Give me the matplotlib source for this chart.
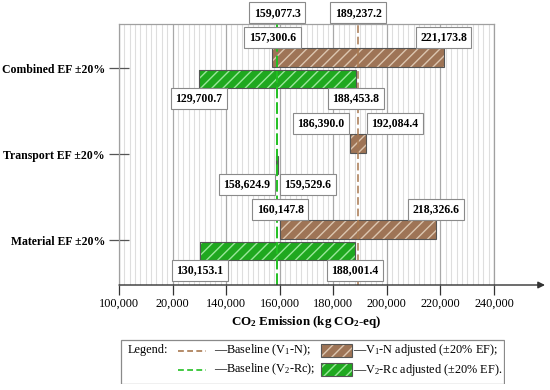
import matplotlib
matplotlib.use("Agg")
import matplotlib.pyplot as plt
from matplotlib.patches import Rectangle
from matplotlib.lines import Line2D
import matplotlib.transforms as mtransforms

# ---------------- data ----------------
categories = ["Material EF ±20%", "Transport EF ±20%", "Combined EF ±20%"]
v1_low = [160147.8, 186390.0, 157300.6]
v1_high = [218326.6, 192084.4, 221173.8]
v2_low = [130153.1, 158624.9, 129700.7]
v2_high = [188001.4, 159529.6, 188453.8]
baseline_v1 = 189237.2
baseline_v2 = 159077.3
xtick_values = [100000, 120000, 140000, 160000, 180000, 200000, 220000, 240000]
xtick_labels = ["100,000", "20,000", "140,000", "160,000", "180,000", "200,000", "220,000", "240,000"]

# ---------------- style ----------------
plt.rcParams['font.family'] = ['Liberation Serif', 'DejaVu Serif']
plt.rcParams['mathtext.fontset'] = 'custom'
plt.rcParams['mathtext.rm'] = 'Liberation Serif'
plt.rcParams['mathtext.bf'] = 'Liberation Serif:bold'
plt.rcParams['mathtext.it'] = 'Liberation Serif:italic'
plt.rcParams['hatch.linewidth'] = 1.0

BROWN = '#9e7456'
BROWN_H = '#dcc6b0'
GREEN = '#1fa81f'
GREEN_H = '#9ae89a'
BROWN_LINE = '#a8784f'
GREEN_LINE = '#22c022'
EDGE = '#555555'

fig = plt.figure(figsize=(5.5, 3.9), dpi=100)
ax = fig.add_axes([119/550, 1 - 285/390, 375/550, 261/390])

ax.set_xlim(100000, 240000)
ax.set_ylim(-0.523, 2.512)
ypos = list(range(len(categories)))

# grid
for xv in range(100000, 240001, 2000):
    if xv % 20000 == 0:
        ax.axvline(xv, color='#a8a8a8', lw=0.9, zorder=1)
    else:
        ax.axvline(xv, color='#dedede', lw=0.8, zorder=0.5)

off = 0.125
h = 0.215
for i, y in enumerate(ypos):
    ax.barh(y + off, v1_high[i] - v1_low[i], left=v1_low[i], height=h,
            color=BROWN, edgecolor=BROWN_H, hatch='///', lw=0, zorder=3)
    ax.barh(y + off, v1_high[i] - v1_low[i], left=v1_low[i], height=h,
            fill=False, edgecolor=EDGE, lw=0.8, zorder=3.1)
    ax.barh(y - off, v2_high[i] - v2_low[i], left=v2_low[i], height=h,
            color=GREEN, edgecolor=GREEN_H, hatch='///', lw=0, zorder=3)
    ax.barh(y - off, v2_high[i] - v2_low[i], left=v2_low[i], height=h,
            fill=False, edgecolor=EDGE, lw=0.8, zorder=3.1)

# baselines
ax.axvline(baseline_v1, color=BROWN_LINE, lw=1.1, ls=(0, (5, 2.5)), zorder=4)
ax.axvline(baseline_v2, color=GREEN_LINE, lw=1.4, ls=(0, (6, 2)), zorder=4)

LFS = 8.5
PAD = 0.38
box = dict(boxstyle=f'square,pad={PAD}', fc='white', ec='#8a8a8a', lw=0.8)
fmt = lambda v: f"{v:,.1f}"
lab_off = 0.355
shift = PAD * LFS + 0.8  # points, so box edges sit at the bar end


def put(x, y, ha):
    dx = {'right': -shift, 'left': shift, 'center': 0}[ha]
    ax.annotate(fmt(x), xy=(x, y), xytext=(dx, 0), textcoords='offset points',
                ha=ha, va='center', fontsize=LFS, fontweight='bold', bbox=box,
                zorder=6)


for i, y in enumerate(ypos):
    narrow = (v1_high[i] - v1_low[i]) < 20000
    ha_lo, ha_hi = ('right', 'left') if narrow else ('center', 'center')
    put(v1_low[i], y + lab_off, ha_lo)
    put(v1_high[i], y + lab_off, ha_hi)
    put(v2_low[i], y - lab_off, ha_lo)
    put(v2_high[i], y - lab_off, ha_hi)

trans = mtransforms.blended_transform_factory(ax.transData, ax.transAxes)
for bv in (baseline_v2, baseline_v1):
    ax.text(bv, 1.043, fmt(bv), transform=trans, ha='center', va='center',
            fontsize=LFS, fontweight='bold', bbox=box, clip_on=False, zorder=6)

# axes styling
for s in ('top', 'right', 'left'):
    ax.spines[s].set_color('#a0a0a0')
    ax.spines[s].set_linewidth(0.9)
ax.spines['bottom'].set_visible(False)
ax.annotate('', xy=(545/550, 1 - 285/390), xytext=(119/550, 1 - 285/390),
            xycoords='figure fraction', textcoords='figure fraction',
            arrowprops=dict(arrowstyle='-|>', color='#333333', lw=1.0,
                            mutation_scale=10, shrinkA=0, shrinkB=0),
            zorder=7)

ax.set_xticks(xtick_values)
ax.set_xticklabels(xtick_labels, fontsize=8.8)
ax.tick_params(axis='x', direction='out', length=7, width=0.9, color='#333333', pad=2)
ax.set_yticks(ypos)
ax.set_yticklabels(categories, fontsize=8.5, fontweight='bold')
ax.tick_params(axis='y', direction='inout', length=14, width=0.9, color='#555555', pad=3)
ax.set_xlabel(r"CO$_\mathbf{2}$ Emission (kg CO$_\mathbf{2}$-eq)", fontsize=9.4,
              fontweight='bold', labelpad=3)

# ---------------- legend (drawn manually) ----------------
lax = fig.add_axes([120/550, 1 - 384/390, 385/550, 45/390])
lax.set_xlim(0, 385)
lax.set_ylim(0, 45)
lax.axis('off')
lax.add_patch(Rectangle((0.5, 0.5), 384, 44, fill=False, ec='#8a8a8a', lw=0.9))
r1, r2 = 33.5, 14.5
lax.text(8, r1, "Legend:", fontsize=8.8, va='center', ha='left')
lax.add_line(Line2D([58, 86], [r1, r1], color=BROWN_LINE, lw=1.2, ls=(0, (3.5, 2))))
lax.add_line(Line2D([58, 86], [r2, r2], color=GREEN_LINE, lw=1.2, ls=(0, (3.5, 2))))
lax.text(94, r1, "—Baseline (V$_1$-N);", fontsize=8.8, va='center', ha='left')
lax.text(94, r2, "—Baseline (V$_2$-Rc);", fontsize=8.8, va='center', ha='left')
lax.add_patch(Rectangle((201, r1 - 6.5), 31, 13, fc=BROWN, ec=BROWN_H, hatch='///', lw=0))
lax.add_patch(Rectangle((201, r1 - 6.5), 31, 13, fill=False, ec=EDGE, lw=0.8))
lax.add_patch(Rectangle((201, r2 - 6.5), 31, 13, fc=GREEN, ec=GREEN_H, hatch='///', lw=0))
lax.add_patch(Rectangle((201, r2 - 6.5), 31, 13, fill=False, ec=EDGE, lw=0.8))
lax.text(233, r1, "—V$_1$-N adjusted (±20% EF);", fontsize=8.8, va='center', ha='left')
lax.text(233, r2, "—V$_2$-Rc adjusted (±20% EF).", fontsize=8.8, va='center', ha='left')

fig.savefig("out.png", dpi=100)
